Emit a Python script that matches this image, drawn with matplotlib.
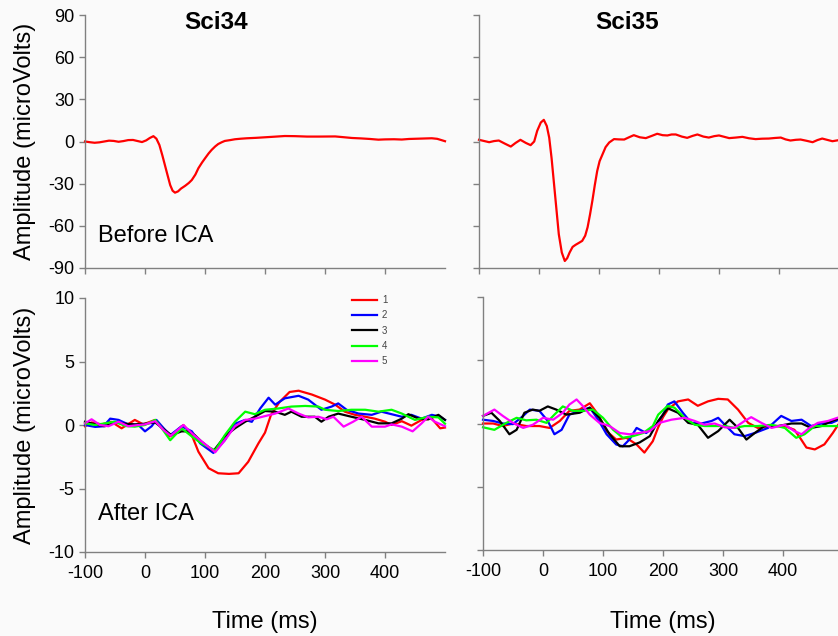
# ERP amplitude before / after ICA for subjects Sci34 and Sci35
import matplotlib.pyplot as plt

plt.rcParams['font.family'] = ['Liberation Sans', 'DejaVu Sans']
plt.rcParams['axes.unicode_minus'] = False

# (time ms, amplitude microVolts)
sci34_before = [(-100, 0), (-92, -0.5), (-84, -0.9), (-76, -0.6), (-68, 0), (-60, 0.6),
                (-52, 0.4), (-44, -0.2), (-36, 0.3), (-28, 1.0), (-20, 1.1), (-12, 0.3),
                (-5, -0.4), (2, 0.8), (8, 2.5), (14, 3.8), (19, 2.0), (24, -2.5), (29, -10),
                (33, -16.5), (37, -23), (42, -31), (46, -35), (50, -36.4), (55, -35.5),
                (60, -33.5), (67, -31.5), (73, -29.5), (78, -27.4), (84, -23.5), (89, -19),
                (95, -15), (100, -12), (106, -8.5), (111, -6), (117, -3.5), (122, -1.8),
                (128, -0.5), (133, 0.4), (142, 1.0), (150, 1.6), (160, 2.0), (170, 2.3),
                (185, 2.6), (200, 3.0), (215, 3.4), (233, 3.9), (250, 3.8), (270, 3.5),
                (290, 3.5), (317, 3.6), (330, 3.1), (345, 2.5), (360, 2.2), (375, 1.8),
                (389, 1.3), (400, 1.5), (415, 1.6), (428, 1.4), (440, 1.8), (455, 2.0),
                (470, 2.2), (478, 2.3), (487, 1.9), (494, 1.0), (500, 0.2)]

sci35_before = [(-100, 1.2), (-90, 0.2), (-83, -0.5), (-75, 0.3), (-67, 0.7), (-57, -1.5),
                (-47, -3.6), (-39, -1), (-31, 1.2), (-22, -1), (-14, -2.6), (-8, 0),
                (-3, 7.6), (3, 13.5), (8, 15.4), (13, 11), (17, 2.8), (21, -12), (25, -30),
                (29, -48), (33, -66), (38, -79), (43, -85), (47, -83), (51, -79), (56, -75),
                (61, -73.5), (67, -72), (72, -70.7), (77, -67), (81, -61), (85, -52),
                (89, -42), (93, -31), (97, -21), (101, -14), (106, -9), (111, -4),
                (117, -0.7), (125, 1.7), (133, 1.5), (142, 1.4), (150, 3), (158, 4.5),
                (168, 3), (178, 2.4), (188, 4), (197, 5.5), (206, 4.5), (214, 4.3),
                (221, 5), (228, 5), (238, 3.5), (247, 2.6), (256, 4), (264, 5), (274, 3.5),
                (283, 2.8), (292, 3.8), (300, 4.3), (309, 3.3), (317, 2.4), (328, 2.8),
                (339, 3.3), (350, 2.3), (361, 1.7), (372, 2), (383, 2.1), (393, 2.5),
                (403, 2.8), (411, 1.5), (419, 0.7), (428, 1.2), (436, 1.4), (446, 0.5),
                (456, -0.5), (464, 1), (472, 2.1), (480, 1.2), (489, 0.2), (500, 1)]

sci34_after_1 = [(-100, -0.1), (-89, 0.2), (-72, 0.05), (-56, 0.25), (-39, -0.26), (-17, 0.4),
                 (-3, 0.05), (17, 0.4), (28, -0.25), (42, -0.9), (64, 0.0), (78, -0.8),
                 (89, -2.1), (106, -3.4), (122, -3.8), (140, -3.85), (156, -3.8), (172, -2.9),
                 (189, -1.45), (200, -0.6), (210, 0.8), (224, 1.8), (241, 2.6), (256, 2.7),
                 (278, 2.4), (300, 2.0), (317, 1.6), (333, 1.05), (350, 0.8), (367, 0.65),
                 (383, 0.5), (400, 0.26), (411, 0.0), (428, 0.3), (444, -0.05), (461, 0.4),
                 (478, 0.5), (492, -0.26), (500, -0.2)]
sci34_after_2 = [(-100, 0), (-83, -0.15), (-69, -0.1), (-58, 0.5), (-44, 0.4), (-28, 0.05),
                 (-11, 0), (0, -0.5), (11, -0.1), (19, 0.4), (31, -0.25), (42, -0.8),
                 (61, -0.1), (78, -0.5), (92, -1.45), (114, -2.2), (133, -1.2), (150, 0.1),
                 (167, 0.4), (178, 0.25), (192, 1.3), (206, 2.15), (217, 1.6), (233, 2.1),
                 (256, 2.3), (272, 2.0), (294, 1.2), (311, 1.45), (322, 1.7), (336, 1.2),
                 (356, 0.9), (378, 0.8), (394, 1.05), (411, 0.85), (428, 0.65), (444, 0.8),
                 (461, 0.5), (478, 0.8), (492, 0.65), (500, 0.4)]
sci34_after_3 = [(-100, 0.26), (-83, 0.05), (-67, -0.1), (-50, 0.2), (-33, 0.1), (-17, 0.05),
                 (0, 0.1), (17, 0.2), (33, -0.4), (44, -0.8), (61, -0.5), (72, -0.5),
                 (83, -0.8), (94, -1.3), (114, -2.05), (133, -0.9), (150, -0.26), (167, 0.26),
                 (183, 0.65), (200, 1.1), (217, 1.05), (233, 0.8), (244, 1.05), (261, 0.65),
                 (283, 0.65), (294, 0.26), (306, 0.65), (322, 0.9), (344, 0.65), (367, 0.4),
                 (389, 0.13), (411, 0.13), (428, 0.5), (439, 0.85), (456, 0.5), (472, 0.45),
                 (489, 0.8), (500, 0.4)]
sci34_after_4 = [(-100, 0.13), (-83, 0), (-67, 0.13), (-50, 0.26), (-33, -0.08), (-17, -0.13),
                 (0, 0), (17, 0.4), (28, -0.26), (42, -1.2), (61, -0.26), (78, -0.9),
                 (94, -1.45), (117, -2.0), (133, -0.8), (150, 0.26), (167, 1.05), (183, 0.85),
                 (200, 1.2), (222, 1.3), (244, 1.45), (267, 1.5), (289, 1.45), (300, 1.2),
                 (322, 1.1), (344, 1.2), (367, 1.2), (389, 1.05), (411, 1.2), (428, 0.9),
                 (450, 0.4), (472, 0.65), (489, 0.6), (500, 0.1)]
sci34_after_5 = [(-100, 0.13), (-89, 0.45), (-75, 0), (-61, -0.1), (-44, 0.26), (-28, -0.1),
                 (-11, 0), (0, 0.05), (17, 0.3), (31, -0.4), (43, -0.85), (64, 0), (78, -0.65),
                 (92, -1.2), (117, -2.15), (133, -1.2), (150, -0.1), (167, 0.4), (183, 0.5),
                 (200, 0.7), (217, 0.9), (239, 1.3), (256, 0.9), (272, 0.6), (289, 0.65),
                 (303, 0.45), (314, 0.65), (331, -0.13), (347, 0.26), (361, 0.65),
                 (378, -0.13), (400, -0.13), (411, 0.05), (428, -0.13), (446, -0.5),
                 (461, 0.13), (472, 0.65), (483, 0.26), (500, -0.1)]

sci35_after_1 = [(-100, 0), (-83, 0), (-67, -0.2), (-50, 0), (-28, -0.2), (-6, -0.2),
                 (11, -0.35), (28, 0.2), (44, 1.0), (61, 1.1), (78, 1.6), (92, 0.7),
                 (106, -0.6), (122, -1.27), (139, -1.13), (156, -1.66), (169, -2.3),
                 (183, -1.4), (192, -0.3), (200, 0.5), (208, 1.1), (225, 1.75), (242, 1.9),
                 (258, 1.4), (275, 1.75), (292, 1.95), (308, 1.9), (325, 1.1), (342, 0.05),
                 (358, -0.35), (381, -0.2), (403, -0.2), (419, -0.5), (428, -1.1),
                 (439, -1.9), (453, -2.05), (469, -1.65), (483, -0.75), (492, -0.1), (500, 0.3)]
sci35_after_2 = [(-100, 0.3), (-83, 0.2), (-67, 0), (-50, -0.05), (-33, 0.6), (-22, 1.1),
                 (-6, 1.0), (8, 0.2), (19, -0.85), (31, -0.5), (44, 0.7), (61, 1.0),
                 (78, 1.25), (92, 0.3), (106, -0.85), (122, -1.66), (133, -1.8), (144, -1.27),
                 (156, -0.35), (172, -0.75), (189, -0.1), (200, 0.7), (208, 1.5), (219, 1.75),
                 (233, 0.85), (247, 0.05), (264, 0), (281, 0.2), (292, 0.45), (303, -0.1),
                 (319, -0.85), (336, -1.0), (353, -0.75), (375, -0.35), (397, 0.6),
                 (414, 0.2), (431, 0.3), (447, -0.2), (464, 0), (481, 0.05), (500, 0.45)]
sci35_after_3 = [(-100, 0.6), (-86, 0.85), (-72, 0.2), (-56, -0.85), (-44, -0.5), (-31, 0.85),
                 (-17, 1.1), (-6, 1.0), (8, 1.35), (22, 1.1), (39, 0.7), (61, 0.85),
                 (78, 1.25), (94, 0.45), (111, -0.85), (128, -1.8), (144, -1.8), (161, -1.5),
                 (178, -1.0), (192, 0.2), (208, 1.2), (225, 0.85), (242, 0.05), (258, -0.1),
                 (275, -1.13), (292, -0.6), (311, 0.3), (325, -0.35), (339, -1.27),
                 (353, -0.75), (369, -0.2), (392, -0.2), (414, 0), (431, 0), (447, -0.35),
                 (464, -0.2), (481, 0.2), (500, 0.5)]
sci35_after_4 = [(-100, -0.3), (-81, -0.5), (-61, 0.05), (-44, 0.45), (-28, 0.25), (-11, 0.3),
                 (6, 0.05), (19, 0.7), (33, 1.35), (50, 1.0), (67, 1.0), (83, 1.1), (100, 0.45),
                 (117, -0.5), (133, -1.13), (150, -1.0), (167, -0.75), (183, -0.2), (192, 0.7),
                 (208, 1.4), (219, 1.25), (236, 0.45), (253, -0.1), (269, -0.2), (286, -0.2),
                 (303, -0.2), (319, -0.35), (336, -0.2), (358, -0.2), (381, -0.1),
                 (403, -0.35), (422, -1.13), (436, -0.85), (453, -0.2), (469, -0.2), (500, -0.2)]
sci35_after_5 = [(-100, 0.6), (-81, 1.1), (-67, 0.6), (-50, 0.05), (-33, -0.35), (-17, -0.1),
                 (0, 0.45), (17, 0.3), (33, 0.85), (44, 1.5), (56, 1.9), (67, 1.35), (78, 0.7),
                 (94, 0.05), (111, -0.2), (128, -0.75), (144, -0.85), (161, -0.75),
                 (178, -0.6), (194, 0.05), (214, 0.3), (236, 0.45), (253, 0.2), (269, -0.1),
                 (286, 0), (303, -0.3), (319, -0.35), (336, 0.2), (347, 0.5), (364, 0.05),
                 (381, -0.35), (403, -0.1), (419, -0.6), (431, -0.85), (444, -0.35),
                 (458, 0.05), (475, 0.2), (500, 0.6)]

component_labels = ['1', '2', '3', '4', '5']
component_colors = ['#ff0000', '#0000ff', '#000000', '#00ff00', '#ff00ff']
subjects = ['Sci34', 'Sci35']

W, H = 838, 636
fig = plt.figure(figsize=(W / 100, H / 100), dpi=100, facecolor='#fafafa')


def make_axes(left, top, width, height):
    ax = fig.add_axes([left / W, 1 - (top + height) / H, width / W, height / H])
    ax.set_facecolor('none')
    for s in ['top', 'right']:
        ax.spines[s].set_visible(False)
    for s in ['left', 'bottom']:
        ax.spines[s].set_color('#808080')
        ax.spines[s].set_linewidth(1.0)
    ax.tick_params(colors='#808080', labelcolor='black', length=4, width=1,
                   labelsize=13)
    ax.tick_params(axis='x', pad=5)
    ax.set_xlim(-100, 500)
    ax.set_xticks([-100, 0, 100, 200, 300, 400])
    return ax


def draw(ax, pts, color, label=None):
    t = [p[0] for p in pts]
    v = [p[1] for p in pts]
    ax.plot(t, v, color=color, lw=1.6, solid_joinstyle='round', label=label,
            clip_on=False)


ax_tl = make_axes(85, 15, 360, 253)
ax_tr = make_axes(479, 15, 360, 253)
ax_bl = make_axes(85, 298, 360, 254)
ax_br = make_axes(483, 297, 360, 253)

for ax in (ax_tl, ax_tr):
    ax.set_ylim(-90, 90)
    ax.set_yticks(range(-90, 91, 30))
    ax.tick_params(axis='x', labelbottom=False)
for ax in (ax_bl, ax_br):
    ax.set_ylim(-10, 10)
    ax.set_yticks([-10, -5, 0, 5, 10])
ax_tr.tick_params(axis='y', labelleft=False)
ax_br.tick_params(axis='y', labelleft=False)

# axis titles placed in figure pixels
fig.text(265 / W, 1 - 628 / H, 'Time (ms)', fontsize=17, ha='center', va='baseline')
fig.text(663 / W, 1 - 628 / H, 'Time (ms)', fontsize=17, ha='center', va='baseline')
for ax in (ax_tl, ax_bl):
    ax.set_ylabel('Amplitude (microVolts)', fontsize=17)
    ax.yaxis.set_label_coords(-0.167, 0.5)
    ax.yaxis.label.set_va('center')

draw(ax_tl, sci34_before, '#ff0000')
draw(ax_tr, sci35_before, '#ff0000')

after34 = [sci34_after_1, sci34_after_2, sci34_after_3, sci34_after_4, sci34_after_5]
after35 = [sci35_after_1, sci35_after_2, sci35_after_3, sci35_after_4, sci35_after_5]
for pts, c, lab in zip(after34, component_colors, component_labels):
    draw(ax_bl, pts, c, lab)
for pts, c in zip(after35, component_colors):
    draw(ax_br, pts, c)

ax_tl.text(0.364, 0.97, subjects[0], transform=ax_tl.transAxes, ha='center',
           va='center', fontsize=17.5, fontweight='bold')
ax_tr.text(0.4125, 0.97, subjects[1], transform=ax_tr.transAxes, ha='center',
           va='center', fontsize=17.5, fontweight='bold')
ax_tl.text(0.036, 0.103, 'Before ICA', transform=ax_tl.transAxes, fontsize=17,
           va='baseline')
ax_bl.text(0.035, 0.126, 'After ICA', transform=ax_bl.transAxes, fontsize=17,
           va='baseline')

leg = ax_bl.legend(loc='upper left', bbox_to_anchor=(0.741, 1.012), frameon=False,
                   fontsize=7, handlelength=2.6, handletextpad=0.5,
                   labelspacing=0.55, borderpad=0, borderaxespad=0)
for txt in leg.get_texts():
    txt.set_color('#444444')

fig.savefig('out.png', dpi=100, facecolor=fig.get_facecolor())
